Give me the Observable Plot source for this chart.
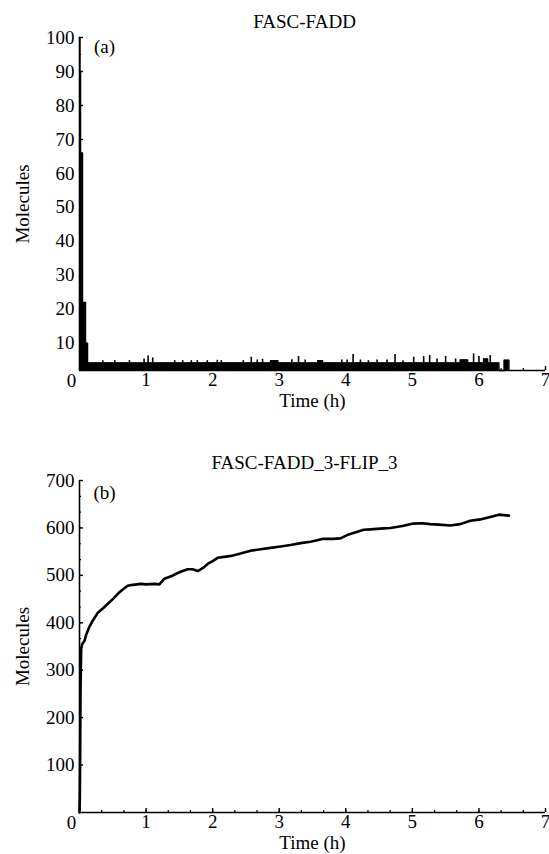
<!DOCTYPE html>
<html><head><meta charset="utf-8">
<script src="https://cdn.jsdelivr.net/npm/d3@7"></script>
<script src="https://cdn.jsdelivr.net/npm/@observablehq/plot@0.6"></script>
<style>
body{margin:0;background:#fff;}
#wrap{position:relative;width:549px;height:854px;overflow:hidden;}
.panel{position:absolute;left:0;}
</style></head><body>
<div id="wrap">
<div class="panel" id="pa" style="top:0px"></div>
<div class="panel" id="pb" style="top:440px"></div>
</div>
<script>
// ---- Panel (a): FASC-FADD ----
const titleA = "FASC-FADD";
const tagA = "(a)";
const aTime      = [0,   0.006, 0.015, 0.045, 0.09, 0.12, 2.87, 2.98, 3.58, 3.65, 5.72, 5.83, 6.07, 6.13, 6.30, 6.38, 6.45];
const aMolecules = [100, 90,    66,    22,    10,   4.2,  4.9,  4.2,  4.9,  4.2,  5.1,  4.2,  5.4,  4.2,  2,    5.0,  2];
const spikeTime      = [0.35, 0.53, 0.75, 0.97, 1.03, 1.10, 1.43, 1.55, 1.68, 1.77, 1.92, 2.07, 2.13, 2.46, 2.58, 2.67, 2.75, 3.19, 3.29, 3.39, 3.94, 4.02, 4.11, 4.22, 4.34, 4.47, 4.62, 4.74, 4.86, 5.02, 5.17, 5.26, 5.37, 5.50, 5.65, 5.92, 6.00, 6.17];
const spikeMolecules = [4.9,  4.9,  4.9,  5.4,  6.3,  5.7,  4.9,  4.9,  4.9,  4.9,  4.9,  5.0,  4.9,  4.9,  5.9,  5.1,  5.3,  5.2,  6.1,  5.1,  5.1,  5.1,  6.7,  5.1,  4.9,  5.1,  5.1,  6.7,  4.9,  5.9,  6.1,  6.4,  5.4,  6.1,  5.4,  6.9,  6.1,  6.4];
const aYTicks = [10, 20, 30, 40, 50, 60, 70, 80, 90, 100];

// ---- Panel (b): FASC-FADD_3-FLIP_3 ----
const titleB = "FASC-FADD_3-FLIP_3";
const tagB = "(b)";
const bTime = [0, 0.005, 0.010, 0.015, 0.020, 0.025, 0.04, 0.075, 0.10, 0.15, 0.20, 0.275, 0.35, 0.425, 0.50, 0.575, 0.65, 0.725, 0.80, 0.925, 1.00, 1.125, 1.20, 1.275, 1.375, 1.475, 1.55, 1.625, 1.70, 1.775, 1.85, 1.925, 2.00, 2.075, 2.175, 2.275, 2.42, 2.57, 2.72, 2.87, 3.02, 3.17, 3.32, 3.47, 3.57, 3.66, 3.80, 3.92, 4.02, 4.15, 4.27, 4.37, 4.47, 4.57, 4.67, 4.85, 5.00, 5.15, 5.27, 5.40, 5.57, 5.72, 5.87, 6.02, 6.17, 6.30, 6.45];
const bMolecules = [0, 30, 120, 250, 300, 345, 355, 362, 375, 392, 405, 421, 430, 440, 450, 461, 470, 478, 480, 482, 481, 482, 481, 493, 498, 505, 509, 513, 513, 509, 515, 524, 530, 537, 539, 541, 546, 552, 555, 558, 561, 564, 568, 571, 574, 577, 577, 578, 585, 591, 596, 597, 598, 599, 600, 604, 609, 610, 608, 607, 605, 608, 615, 618, 623, 628, 626];
const bYTicks = [100, 200, 300, 400, 500, 600, 700];

const xTicks = [1, 2, 3, 4, 5, 6, 7];
const xLabel = "Time (h)";
const yLabel = "Molecules";

const aData = aTime.map((t, i) => ({t, v: aMolecules[i]}));
const spikes = spikeTime.map((t, i) => ({t, v: spikeMolecules[i]}));
const bData = bTime.map((t, i) => ({t, v: bMolecules[i]}));

const FONT = "Liberation Serif, Times New Roman, serif";
const FS = 19;
const xMinor = d3.range(0, 7.0001, 1/3);

function commonMarks(yBase, yTicks, yMinor, title, tag, titleDy, tagDy, xLabelDy) {
  return [
    Plot.ruleX([0], {strokeWidth: 1.6}),
    Plot.ruleY([yBase], {strokeWidth: 1.6}),
    Plot.axisY(yTicks, {tickSize: -4, tickPadding: 9, strokeWidth: 1.4, label: null, fontSize: FS}),
    Plot.axisY(yMinor, {tickSize: -2, tickFormat: () => "", label: null, strokeWidth: 1.2}),
    Plot.axisX(xTicks, {tickSize: -4, tickPadding: 6, strokeWidth: 1.4, label: null, fontSize: FS}),
    Plot.axisX(xMinor, {tickSize: -2, tickFormat: () => "", label: null, strokeWidth: 1.2}),
    Plot.text([0], {x: d => d, y: () => yBase, text: () => "0", dx: -8, dy: 3, lineAnchor: "top", fontSize: FS}),
    Plot.text([xLabel], {frameAnchor: "bottom", dy: xLabelDy, textAnchor: "middle", fontSize: FS, lineAnchor: "middle"}),
    Plot.text([yLabel], {frameAnchor: "left", dx: -57, rotate: -90, textAnchor: "middle", fontSize: FS, lineAnchor: "middle"}),
    Plot.text([title], {frameAnchor: "top", dx: -8, dy: titleDy, textAnchor: "middle", fontSize: FS, lineAnchor: "middle"}),
    Plot.text([tag], {frameAnchor: "top-left", dx: 25, dy: tagDy, textAnchor: "middle", fontSize: FS, lineAnchor: "middle"})
  ];
}

const style = {fontFamily: FONT, fontSize: FS + "px", background: "transparent", color: "black", overflow: "visible"};

const plotA = Plot.plot({
  width: 549, height: 410,
  marginLeft: 79, marginRight: 4, marginTop: 37, marginBottom: 40,
  style,
  x: {domain: [0, 7]},
  y: {domain: [2, 100]},
  marks: [
    Plot.areaY(aData, {x: "t", y1: () => 2, y2: "v", curve: "step-after", fill: "black"}),
    Plot.lineY(aData, {x: "t", y: "v", curve: "step-after", strokeWidth: 1.5}),
    Plot.ruleX(spikes, {x: "t", y1: () => 2, y2: "v", strokeWidth: 1.6}),
    ...commonMarks(2, aYTicks, d3.range(5, 100, 10), titleA, tagA, -16, 9, 30)
  ]
});
document.getElementById("pa").appendChild(plotA);

const plotB = Plot.plot({
  width: 549, height: 414,
  marginLeft: 79, marginRight: 4, marginTop: 40, marginBottom: 42,
  style,
  x: {domain: [0, 7]},
  y: {domain: [0, 700]},
  marks: [
    Plot.line(bData, {x: "t", y: "v", curve: "linear", strokeWidth: 2.6}),
    ...commonMarks(0, bYTicks, d3.range(0, 700.001, 100/3), titleB, tagB, -18, 12, 30)
  ]
});
document.getElementById("pb").appendChild(plotB);
</script>
</body></html>
